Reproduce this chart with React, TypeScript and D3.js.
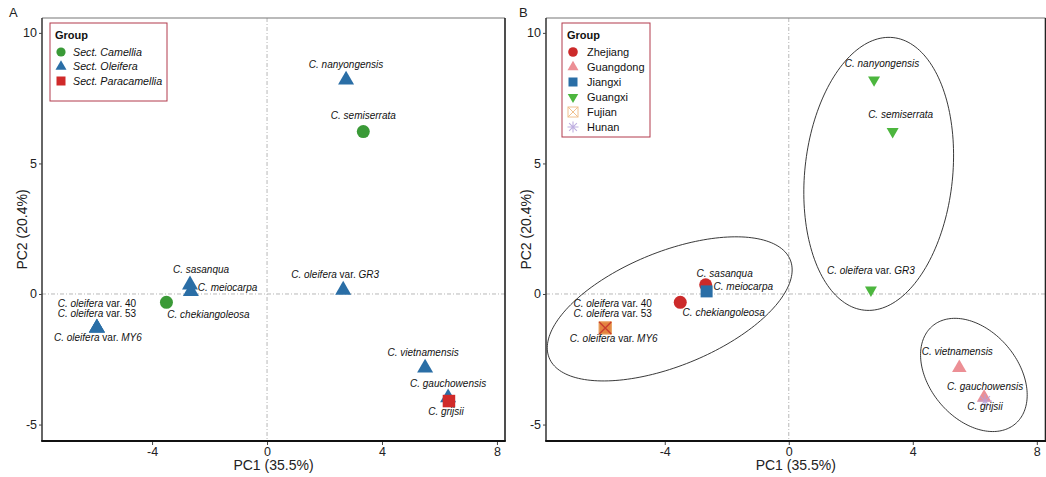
import React, { useRef, useEffect } from 'react';
import * as d3 from 'd3';

// sample scores on the first two principal components
const sampleNames = [
  'C. nanyongensis', 'C. semiserrata', 'C. oleifera var. GR3', 'C. sasanqua', 'C. meiocarpa',
  'C. chekiangoleosa', 'C. oleifera var. 40', 'C. oleifera var. 53', 'C. oleifera var. MY6',
  'C. vietnamensis', 'C. gauchowensis', 'C. grijsii',
];
const pc1Values = [2.75, 3.35, 2.65, -2.68, -2.65, -3.5, -5.92, -5.92, -5.92, 5.5, 6.3, 6.33];
const pc2Values = [8.2, 6.22, 0.15, 0.35, 0.1, -0.32, -1.3, -1.3, -1.3, -2.83, -3.97, -4.1];

const sectionGroups = ['Sect. Camellia', 'Sect. Oleifera', 'Sect. Paracamellia'];
const sectionOf = [
  'Sect. Oleifera', 'Sect. Camellia', 'Sect. Oleifera', 'Sect. Oleifera', 'Sect. Oleifera',
  'Sect. Camellia', 'Sect. Oleifera', 'Sect. Oleifera', 'Sect. Oleifera',
  'Sect. Oleifera', 'Sect. Oleifera', 'Sect. Paracamellia',
];

const provinceGroups = ['Zhejiang', 'Guangdong', 'Jiangxi', 'Guangxi', 'Fujian', 'Hunan'];
const provinceOf = [
  'Guangxi', 'Guangxi', 'Guangxi', 'Zhejiang', 'Jiangxi', 'Zhejiang',
  'Fujian', 'Fujian', 'Fujian', 'Guangdong', 'Guangdong', 'Hunan',
];

// confidence ellipses (panel B): centre, major and minor semi-axis vectors in PC units
const ellipseCenters = [[-3.84, -0.57], [2.9, 4.6], [5.97, -3.1]];
const ellipseMajor = [[3.89, 1.87], [0.465, 5.22], [1.33, -1.88]];
const ellipseMinor = [[0.68, -2.03], [2.37, -0.3], [-1.09, -1.08]];

const xTicks = [-4, 0, 4, 8];
const yTicks = [-5, 0, 5, 10];
const xTitle = 'PC1 (35.5%)';
const yTitle = 'PC2 (20.4%)';

// layout
const W = 1046;
const H = 477;
const plotTop = 18;
const plotBottom = 441;
const xDomain = [-7.83, 8.28];
const yDomain = [-5.63, 10.57];
const FONT = '"Liberation Sans", Arial, Helvetica, sans-serif';

// label placement in px relative to the point: [dx, dy, anchor]
const labelPosA = {
  'C. nanyongensis': [0, -12, 'middle'],
  'C. semiserrata': [0, -12.5, 'middle'],
  'C. oleifera var. GR3': [-8, -12, 'middle'],
  'C. sasanqua': [11, -12, 'middle'],
  'C. meiocarpa': [7, -0.5, 'start'],
  'C. chekiangoleosa': [42, 16, 'middle'],
  'C. oleifera var. 40': [0, -21, 'middle'],
  'C. oleifera var. 53': [0, -11, 'middle'],
  'C. oleifera var. MY6': [1, 13, 'middle'],
  'C. vietnamensis': [-2, -12, 'middle'],
  'C. gauchowensis': [0, -11, 'middle'],
  'C. grijsii': [-3, 14, 'middle'],
};
const labelPosB = {
  'C. nanyongensis': [8, -13, 'middle'],
  'C. semiserrata': [8, -14, 'middle'],
  'C. oleifera var. GR3': [0, -16, 'middle'],
  'C. sasanqua': [19, -8, 'middle'],
  'C. meiocarpa': [7, -1, 'start'],
  'C. chekiangoleosa': [43.5, 14, 'middle'],
  'C. oleifera var. 40': [7.5, -20.5, 'middle'],
  'C. oleifera var. 53': [7.5, -11, 'middle'],
  'C. oleifera var. MY6': [8.5, 14, 'middle'],
  'C. vietnamensis': [-2, -13, 'middle'],
  'C. gauchowensis': [1, -7.5, 'middle'],
  'C. grijsii': [0, 9, 'middle'],
};

const styleA = {
  'Sect. Camellia': { shape: 'circle', color: '#3a9a37', size: 6.5, legendSize: 4.6 },
  'Sect. Oleifera': { shape: 'triangle', color: '#2a6ea6', size: 16, legendSize: 11 },
  'Sect. Paracamellia': { shape: 'square', color: '#d02a2a', size: 12.5, legendSize: 9 },
};
const styleB = {
  Zhejiang: { shape: 'circle', color: '#cc2a2a', size: 6.5, legendSize: 4.8 },
  Guangdong: { shape: 'triangle', color: '#ec8f95', size: 14.5, legendSize: 11 },
  Jiangxi: { shape: 'square', color: '#2a6ea6', size: 12, legendSize: 9 },
  Guangxi: { shape: 'down', color: '#4cb63e', size: 12, legendSize: 10.5 },
  Fujian: { shape: 'boxx', color: '#e8964c', size: 12, legendSize: 10 },
  Hunan: { shape: 'asterisk', color: '#b4a2dc', size: 14, legendSize: 11 },
};

function drawSymbol(g, shape, cx, cy, s, color, inLegend = false) {
  if (shape === 'circle') {
    g.append('circle').attr('cx', cx).attr('cy', cy).attr('r', s).attr('fill', color);
  } else if (shape === 'triangle' || shape === 'down') {
    const h = (s * Math.sqrt(3)) / 2;
    const k = shape === 'triangle' ? 1 : -1;
    const pts = [
      [cx, cy - (k * 2 * h) / 3],
      [cx - s / 2, cy + (k * h) / 3],
      [cx + s / 2, cy + (k * h) / 3],
    ];
    g.append('path').attr('d', d3.line()(pts) + 'Z').attr('fill', color);
  } else if (shape === 'square') {
    g.append('rect').attr('x', cx - s / 2).attr('y', cy - s / 2)
      .attr('width', s).attr('height', s).attr('fill', color);
  } else if (shape === 'boxx') {
    const h = s / 2;
    const b = g.append('g');
    const xPath = `M${cx - h},${cy - h}L${cx + h},${cy + h}M${cx + h},${cy - h}L${cx - h},${cy + h}`;
    if (inLegend) {
      b.append('rect').attr('x', cx - h).attr('y', cy - h).attr('width', s).attr('height', s)
        .attr('fill', 'none').attr('stroke', '#f0c08e').attr('stroke-width', 1);
      b.append('path').attr('d', xPath).attr('stroke', '#f0c08e').attr('stroke-width', 1);
    } else {
      // overplotted samples build up the colour
      b.attr('opacity', 0.55);
      b.append('rect').attr('x', cx - h).attr('y', cy - h).attr('width', s).attr('height', s)
        .attr('fill', '#e0782e').attr('stroke', '#e8964c').attr('stroke-width', 1);
      b.append('path').attr('d', xPath).attr('stroke', '#c42a1a').attr('stroke-width', 1.4);
    }
  } else if (shape === 'asterisk') {
    const h = s / 2;
    const d = h * Math.SQRT1_2;
    g.append('path')
      .attr('d', `M${cx - h},${cy}L${cx + h},${cy}M${cx},${cy - h}L${cx},${cy + h}` +
        `M${cx - d},${cy - d}L${cx + d},${cy + d}M${cx + d},${cy - d}L${cx - d},${cy + d}`)
      .attr('stroke', color).attr('stroke-width', 1.1).attr('opacity', 0.85);
  }
}

function writeLabel(t, name) {
  const m = name.match(/^(C\. \w+)( var\. )(.+)$/);
  if (!m) {
    t.append('tspan').attr('font-style', 'italic').text(name);
    return;
  }
  t.append('tspan').attr('font-style', 'italic').text(m[1]);
  t.append('tspan').text(m[2]);
  t.append('tspan').attr('font-style', /[A-Z]/.test(m[3]) ? 'italic' : 'normal').text(m[3]);
}

function drawPanel(svg, cfg) {
  const { x0, x1, tag, groupOf, styles, groups, labelPos, legend, italicLegend, withEllipses } = cfg;
  const x = d3.scaleLinear().domain(xDomain).range([x0, x1]);
  const y = d3.scaleLinear().domain(yDomain).range([plotBottom, plotTop]);
  const g = svg.append('g').attr('font-family', FONT);

  // reference lines at zero
  g.append('line').attr('x1', x0).attr('x2', x1).attr('y1', y(0)).attr('y2', y(0))
    .attr('stroke', '#b0b0b0').attr('stroke-width', 0.9).attr('stroke-dasharray', '4 2 1 2');
  g.append('line').attr('x1', x(0)).attr('x2', x(0)).attr('y1', plotTop).attr('y2', plotBottom)
    .attr('stroke', '#b0b0b0').attr('stroke-width', 0.9).attr('stroke-dasharray', '4 2 1 2');

  if (withEllipses) {
    const ts = d3.range(0, 2 * Math.PI + 0.01, Math.PI / 90);
    ellipseCenters.forEach((c, i) => {
      const pts = ts.map((t) => [
        x(c[0] + ellipseMajor[i][0] * Math.cos(t) + ellipseMinor[i][0] * Math.sin(t)),
        y(c[1] + ellipseMajor[i][1] * Math.cos(t) + ellipseMinor[i][1] * Math.sin(t)),
      ]);
      g.append('path').attr('d', d3.line()(pts)).attr('fill', 'none')
        .attr('stroke', '#222').attr('stroke-width', 0.9);
    });
  }

  // points
  sampleNames.forEach((name, i) => {
    const st = styles[groupOf[i]];
    drawSymbol(g, st.shape, x(pc1Values[i]), y(pc2Values[i]), st.size, st.color);
  });

  // labels
  sampleNames.forEach((name, i) => {
    const [dx, dy, anchor] = labelPos[name];
    const t = g.append('text').attr('x', x(pc1Values[i]) + dx).attr('y', y(pc2Values[i]) + dy)
      .attr('text-anchor', anchor).attr('font-size', 10).attr('fill', '#111');
    writeLabel(t, name);
  });

  // frame
  g.append('line').attr('x1', x0).attr('x2', x1).attr('y1', plotTop).attr('y2', plotTop)
    .attr('stroke', '#777').attr('stroke-width', 1.2);
  g.append('line').attr('x1', x1).attr('x2', x1).attr('y1', plotTop).attr('y2', plotBottom)
    .attr('stroke', '#222').attr('stroke-width', 1.6);
  g.append('line').attr('x1', x0).attr('x2', x0).attr('y1', plotTop).attr('y2', plotBottom)
    .attr('stroke', '#333').attr('stroke-width', 1.5);
  g.append('line').attr('x1', x0 - 0.8).attr('x2', x1 + 0.8).attr('y1', plotBottom).attr('y2', plotBottom)
    .attr('stroke', '#111').attr('stroke-width', 2);

  // axes
  const xa = g.append('g').attr('transform', `translate(0,${plotBottom + 1})`)
    .call(d3.axisBottom(x).tickValues(xTicks).tickSize(3).tickPadding(2).tickFormat(d3.format('d')));
  const ya = g.append('g').attr('transform', `translate(${x0},0)`)
    .call(d3.axisLeft(y).tickValues(yTicks).tickSize(3).tickPadding(2).tickFormat(d3.format('d')));
  [xa, ya].forEach((a) => {
    a.select('.domain').remove();
    a.selectAll('line').attr('stroke', '#444');
    a.selectAll('text').attr('font-family', FONT).attr('font-size', 12.5).attr('fill', '#222');
    a.selectAll('text').text((d) => (d < 0 ? '-' + Math.abs(d) : String(d)));
  });

  g.append('text').attr('x', (x0 + x1) / 2).attr('y', 470).attr('text-anchor', 'middle')
    .attr('font-size', 14).attr('fill', '#222').text(xTitle);
  g.append('text').attr('transform', `translate(${x0 - 15},${(plotTop + plotBottom) / 2}) rotate(-90)`)
    .attr('text-anchor', 'middle').attr('font-size', 14).attr('fill', '#222').text(yTitle);

  g.append('text').attr('x', tag.x).attr('y', 17).attr('font-size', 13).attr('fill', '#222').text(tag.text);

  // legend
  const lg = g.append('g');
  lg.append('rect').attr('x', legend.x).attr('y', legend.y).attr('width', legend.w).attr('height', legend.h)
    .attr('fill', '#fff').attr('stroke', '#b23a4c').attr('stroke-width', 1);
  lg.append('text').attr('x', legend.x + 5).attr('y', legend.y + 16).attr('font-size', 11)
    .attr('font-weight', 'bold').attr('fill', '#111').text('Group');
  groups.forEach((grp, i) => {
    const st = styles[grp];
    const cy = legend.y + 29 + i * legend.step;
    drawSymbol(lg, st.shape, legend.x + 11, cy, st.legendSize, st.color, true);
    lg.append('text').attr('x', legend.x + legend.tx).attr('y', cy + 3.8)
      .attr('font-size', legend.fs).attr('font-style', italicLegend ? 'italic' : 'normal')
      .attr('fill', '#111').text(grp);
  });
}

export default function App() {
  const svgRef = useRef(null);

  useEffect(() => {
    const svg = d3.select(svgRef.current);
    svg.selectAll('*').remove();
    svg.append('rect').attr('width', W).attr('height', H).attr('fill', '#fff');

    drawPanel(svg, {
      x0: 42, x1: 505, tag: { x: 9, text: 'A' },
      groupOf: sectionOf, styles: styleA, groups: sectionGroups, labelPos: labelPosA,
      legend: { x: 50, y: 23, w: 117, h: 78, step: 14.5, tx: 23, fs: 10.7 },
      italicLegend: true, withEllipses: false,
    });
    drawPanel(svg, {
      x0: 546, x1: 1045.5, tag: { x: 519, text: 'B' },
      groupOf: provinceOf, styles: styleB, groups: provinceGroups, labelPos: labelPosB,
      legend: { x: 562, y: 23, w: 88, h: 114, step: 15, tx: 25, fs: 11 },
      italicLegend: false, withEllipses: true,
    });
  }, []);

  return (
    <svg ref={svgRef} width={W} height={H}
      style={{ position: 'absolute', left: 0, top: 0, display: 'block' }} />
  );
}
